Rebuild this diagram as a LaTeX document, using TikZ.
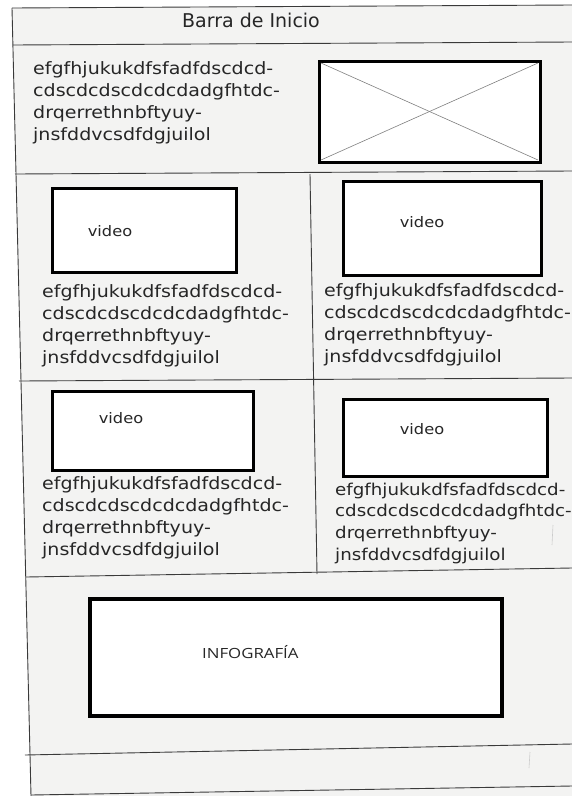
\documentclass[tikz,border=0pt]{standalone}
\usepackage{fontspec}
\setmainfont{DejaVu Sans}
\newfontfamily\wide[FakeStretch=1.12]{DejaVu Sans}
\newfontfamily\infofont[FakeStretch=1.2]{Open Sans}
\definecolor{paper}{HTML}{F3F3F2}
\definecolor{ink}{HTML}{3A3A3A}
\tikzset{
  rule/.style={draw=ink, line width=0.9pt},
  frame/.style={draw=black, line width=3pt, fill=white},
  cross/.style={draw=gray, line width=0.6pt},
  body/.style={font=\wide\fontsize{17}{21.8}\selectfont, align=left, inner sep=0pt, anchor=base west, text=black!85},
  vid/.style={font=\wide\fontsize{14.5}{16}\selectfont, inner sep=0pt, text=black!85},
}
\newcommand{\lorem}{efgfhjukukdfsfadfdscdcd-\\cdscdcdscdcdcdadgfhtdc-\\drqerrethnbftyuy-\\jnsfddvcsdfdgjuilol}
\begin{document}
\begin{tikzpicture}[x=1pt,y=-1pt]
\useasboundingbox (0,0) rectangle (572,796);
\fill[white] (0,0) rectangle (572,796);
\fill[paper] (12,8) -- (572,5) -- (572,796) -- (31,796) -- cycle;
% frame
\draw[rule] (12,8) -- (572,5);
\draw[rule] (12,8) -- (31,796);
\draw[rule] (13,45) -- (572,42);
\draw[rule] (15,174) -- (572,171);
\draw[rule] (19,381) -- (572,378);
\draw[rule] (26,577) -- (572,568);
\draw[rule] (25,755) -- (572,744);
\draw[rule] (31,795) -- (572,786);
\draw[rule] (310,174) -- (317,574);
% title
\node[font=\fontsize{19}{22}\selectfont, inner sep=0pt, anchor=base, text=black!85] (title) at (251,27) {Barra de Inicio};
% header
\node[body] (t1) at (33,140) {\lorem};
\draw[frame] (319,61) rectangle (540,162);
\draw[cross] (321,63) -- (538,160);
\draw[cross] (321,160) -- (538,63);
% row 1
\draw[frame] (52,188) rectangle (236,272);
\node[vid] (v1) at (110,231) {video};
\draw[frame] (343,181) rectangle (541,275);
\node[vid] (v2) at (422,222) {video};
\node[body] (t2) at (42,363) {\lorem};
\node[body] (t3) at (324,362) {\lorem};
% row 2
\draw[frame] (52,391) rectangle (253,470);
\node[vid] (v3) at (121,418) {video};
\draw[frame] (343,399) rectangle (547,476);
\node[vid] (v4) at (422,429) {video};
\node[body] (t4) at (42,555) {\lorem};
\node[body, font=\wide\fontsize{16.3}{21.6}\selectfont] (t5) at (335,560) {\lorem};
% infografia
\draw[frame, line width=4pt] (90,599) rectangle (502,716);
\node[font=\infofont\fontsize{14}{16}\selectfont, inner sep=0pt, anchor=base west, text=black!85] (info) at (202,658) {INFOGRAFÍA};
% faint marks
\draw[gray!40, line width=0.6pt] (553,525) -- (552,545);
\draw[gray!40, line width=0.6pt] (530,752) -- (529,768);
\end{tikzpicture}
\end{document}
